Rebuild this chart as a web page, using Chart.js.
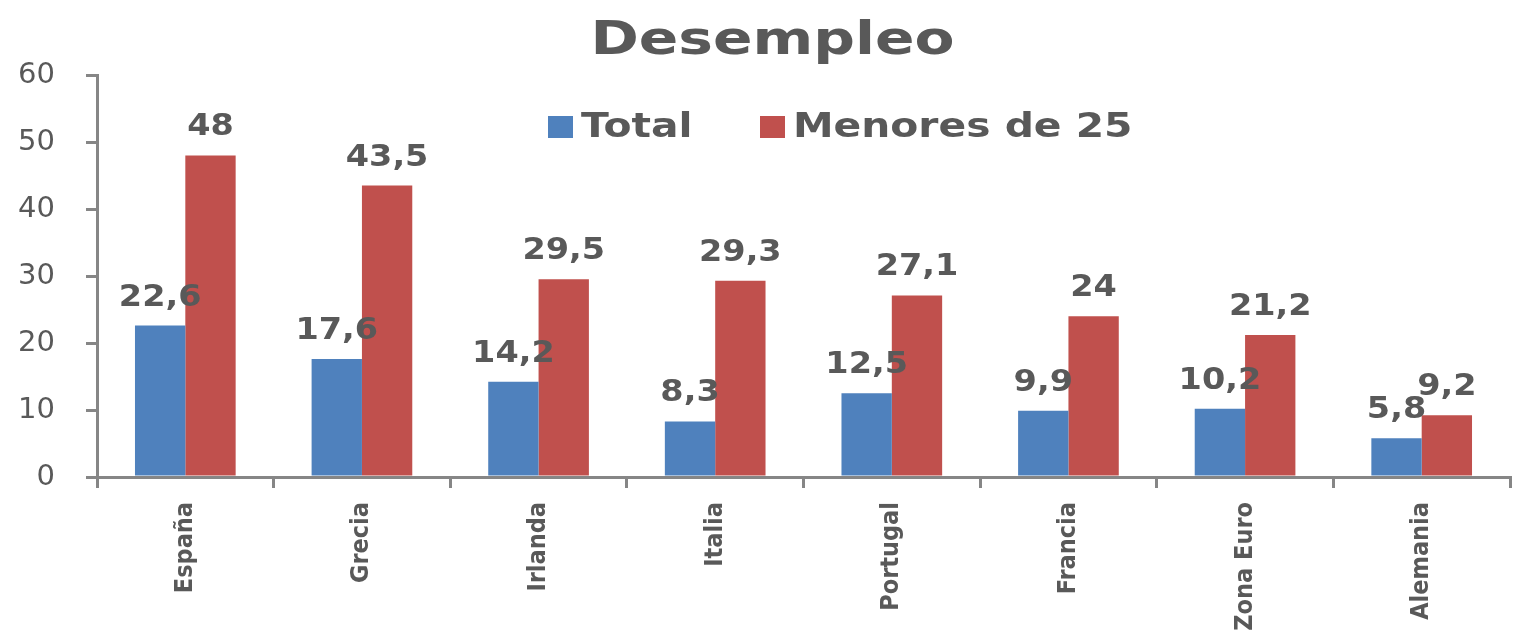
<!DOCTYPE html>
<html>
<head>
<meta charset="utf-8">
<script src="https://cdn.jsdelivr.net/npm/chart.js@4/dist/chart.umd.min.js"></script>
<style>
  body { margin: 0; background: #fff; }
  #wrap { width: 1518px; height: 635px; }
</style>
</head>
<body>
<div id="wrap"><canvas id="chart1" width="1518" height="635"></canvas></div>
<script>
const chartTitle = 'Desempleo';
const categories = ['España', 'Grecia', 'Irlanda', 'Italia', 'Portugal', 'Francia', 'Zona Euro', 'Alemania'];
const seriesNames = ['Total', 'Menores de 25'];
const totalValues = [22.6, 17.6, 14.2, 8.3, 12.5, 9.9, 10.2, 5.8];
const youthValues = [48, 43.5, 29.5, 29.3, 27.1, 24, 21.2, 9.2];
const yMin = 0, yMax = 60, yStep = 10;

const seriesColors = ['#4F81BD', '#C0504D'];
const textGray = '#595959';
const axisGray = '#868686';

// draw text squeezed/stretched horizontally (the original is wider than normal fonts)
function drawWide(ctx, txt, x, y, sx) {
  ctx.save();
  ctx.translate(x, y);
  ctx.scale(sx, 1);
  ctx.fillText(txt, 0, 0);
  ctx.restore();
}

// value labels above each bar, decimal comma like the original
const valueLabels = {
  id: 'valueLabels',
  afterDatasetsDraw(chart) {
    const ctx = chart.ctx;
    ctx.save();
    ctx.font = 'bold 31px "DejaVu Sans"';
    ctx.fillStyle = textGray;
    ctx.textAlign = 'center';
    ctx.textBaseline = 'alphabetic';
    chart.data.datasets.forEach((ds, i) => {
      chart.getDatasetMeta(i).data.forEach((bar, j) => {
        const txt = String(ds.data[j]).replace('.', ',');
        drawWide(ctx, txt, bar.x, bar.y - 20, 1.08);
      });
    });
    ctx.restore();
  }
};

// title and legend, drawn over the top of the plot
const titleAndLegend = {
  id: 'titleAndLegend',
  afterDraw(chart) {
    const ctx = chart.ctx;
    const a = chart.chartArea;
    ctx.save();
    ctx.fillStyle = textGray;
    ctx.font = 'bold 47px "DejaVu Sans"';
    ctx.textAlign = 'center';
    ctx.textBaseline = 'alphabetic';
    drawWide(ctx, chartTitle, (a.left + a.right) / 2 - 31, 54, 1.24);

    const y = a.top + 52;
    const starts = [a.left + 451, a.left + 663];
    ctx.font = 'bold 34px "DejaVu Sans"';
    ctx.textBaseline = 'middle';
    ctx.textAlign = 'left';
    chart.data.datasets.forEach((ds, i) => {
      ctx.fillStyle = ds.backgroundColor;
      ctx.fillRect(starts[i], y - 11, 25, 22);
      ctx.fillStyle = textGray;
      drawWide(ctx, ds.label, starts[i] + 33, y + 1, 1.2);
    });
    ctx.restore();
  }
};

const ctx = document.getElementById('chart1').getContext('2d');
new Chart(ctx, {
  type: 'bar',
  data: {
    labels: categories,
    datasets: [
      { label: seriesNames[0], data: totalValues, backgroundColor: seriesColors[0] },
      { label: seriesNames[1], data: youthValues, backgroundColor: seriesColors[1] }
    ]
  },
  options: {
    responsive: false,
    animation: false,
    categoryPercentage: 0.57,
    barPercentage: 1.0,
    layout: { padding: { left: 0, right: 8, top: 75, bottom: 0 } },
    plugins: {
      legend: { display: false },
      tooltip: { enabled: false },
      title: { display: false }
    },
    scales: {
      x: {
        afterFit(scale) { scale.height = 158; },
        grid: { display: true, drawOnChartArea: false, offset: true, color: axisGray, lineWidth: 3, tickLength: 11 },
        border: { color: axisGray, width: 3 },
        ticks: {
          color: textGray,
          font: { family: '"DejaVu Sans Condensed", "DejaVu Sans", sans-serif', size: 25, weight: 'bold' },
          minRotation: 90,
          maxRotation: 90,
          padding: 14
        }
      },
      y: {
        min: yMin,
        max: yMax,
        afterFit(scale) { scale.width = 97; },
        grid: { display: true, drawOnChartArea: false, color: axisGray, lineWidth: 3, tickLength: 11 },
        border: { color: axisGray, width: 3 },
        ticks: {
          stepSize: yStep,
          color: textGray,
          font: { family: '"DejaVu Sans"', size: 29 },
          padding: 31
        }
      }
    }
  },
  plugins: [valueLabels, titleAndLegend]
});
</script>
</body>
</html>
